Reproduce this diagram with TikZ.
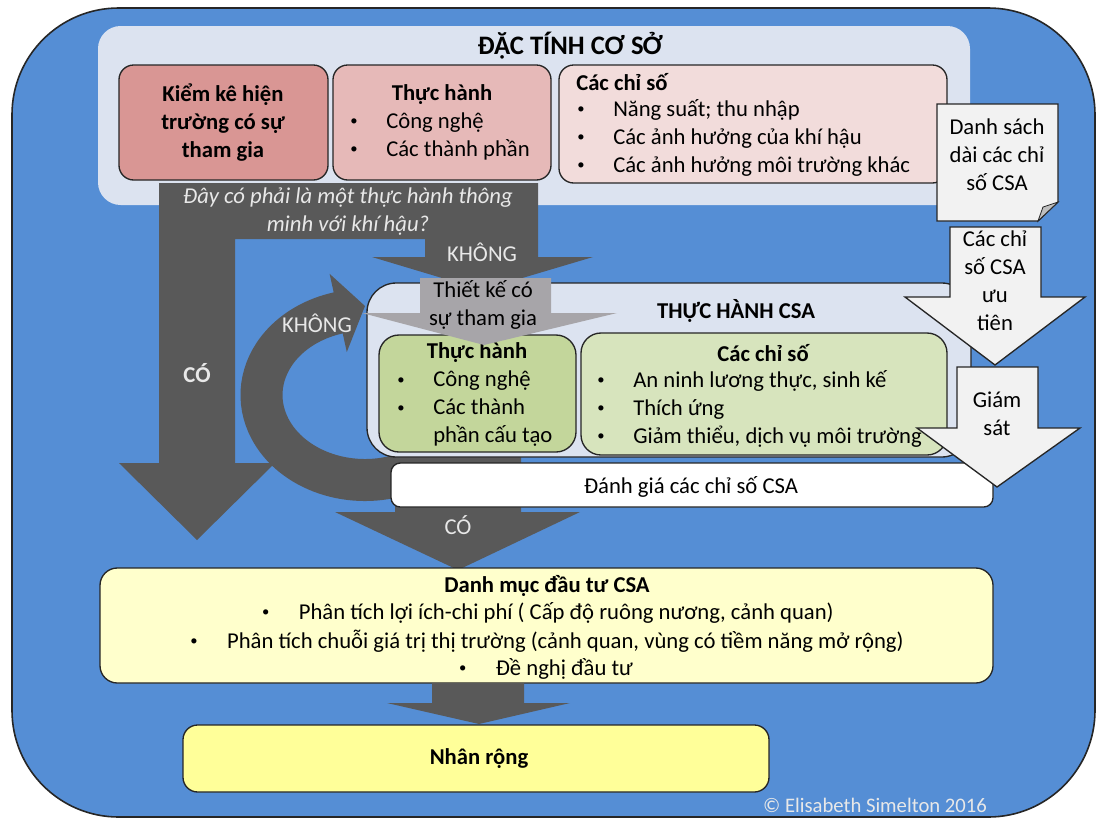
\documentclass[tikz,border=0pt]{standalone}
\usepackage{fontspec}
\setmainfont{Carlito}
\usetikzlibrary{fit}
\definecolor{bgblue}{RGB}{85,142,213}
\definecolor{panel}{RGB}{220,227,240}
\definecolor{redA}{RGB}{217,150,148}
\definecolor{redB}{RGB}{230,185,184}
\definecolor{redC}{RGB}{242,220,219}
\definecolor{greenA}{RGB}{195,214,155}
\definecolor{greenB}{RGB}{215,228,189}
\definecolor{darkarrow}{RGB}{89,89,89}
\definecolor{midarrow}{RGB}{167,165,169}
\definecolor{lightarrow}{RGB}{242,242,242}
\definecolor{foldgray}{RGB}{191,191,191}
\definecolor{yellowA}{RGB}{255,255,204}
\definecolor{yellowB}{RGB}{255,255,153}
\definecolor{softwhite}{RGB}{232,232,232}
\newcommand{\smbullet}{{\fontsize{11}{11}\selectfont\raisebox{0.18em}{\textbullet}}}
\newcommand{\blt}{\makebox[27pt][l]{\smbullet}}
\newcommand{\bltind}{\makebox[27pt][l]{}}
\tikzset{
  box/.style={draw=black!85, line width=1pt, inner sep=0pt},
  txt/.style={font=\fontsize{17}{21}\selectfont, inner sep=0pt},
  btxt/.style={font=\fontsize{17}{21}\selectfont\bfseries, inner sep=0pt},
  wtxt/.style={txt, text=softwhite},
  darkfill/.style={fill=darkarrow},
  lightblock/.style={fill=lightarrow, draw=black!85, line width=1pt, line join=miter},
}
\begin{document}
\begin{tikzpicture}[x=0.75pt,y=-0.75pt]
\useasboundingbox (0,0) rectangle (1096,818);
% outer background
\node[box, fill=bgblue, line width=1.2pt, rounded corners=80pt, fit={(12,8)(1095,817)}] (outer) {};
% top panel
\node[inner sep=0pt, fill=panel, rounded corners=17pt, fit={(98,26)(970,205)}] (base) {};
\node[font=\fontsize{20}{24}\selectfont\bfseries, inner sep=0pt] (baseT) at (570,46) {ĐẶC TÍNH CƠ SỞ};
% three boxes
\node[box, fill=redA, rounded corners=11pt, fit={(119,65)(328,180)}] (kiem) {};
\node[btxt, align=center] (kiemT) at (223,123) {Kiểm kê hiện\\trường có sự\\tham gia};
\node[box, fill=redB, rounded corners=11pt, fit={(333,65)(551,180)}] (th1) {};
\node[btxt] (th1T) at (442,95) {Thực hành};
\node[txt, align=left, anchor=west] (th1L) at (350,136.5) {\blt Công nghệ\\\blt Các thành phần};
\node[box, fill=redC, rounded corners=11pt, fit={(559,65)(947,183)}] (cs1) {};
\node[btxt, anchor=west] (cs1T) at (576,82) {Các chỉ số};
\node[txt, align=left, anchor=west] (cs1L) at (577,138) {\blt Năng suất; thu nhập\\\blt Các ảnh hưởng của khí hậu\\\blt Các ảnh hưởng môi trường khác};
% document shape
\draw[fill=lightarrow, draw=black!85, line width=1pt] (937,104) -- (1058,104) -- (1058,202) -- (1038,221) -- (937,221) -- cycle;
\fill[foldgray, draw=black!85, line width=0.6pt] (1058,202) -- (1038,221) -- (1043,207) -- cycle;
\node[txt, align=center] (docT) at (997,154.5) {Danh sách\\dài các chỉ\\số CSA};
% question L arrow
\fill[darkfill] (159,183) -- (538,183) -- (538,257) -- (593,257) -- (482,290) -- (372,257) -- (425,257) -- (425,239) -- (235,239) -- (235,463) -- (275,463) -- (197,540) -- (119,463) -- (159,463) -- cycle;
\node[txt, align=center, text=softwhite, font=\fontsize{17}{21}\selectfont\itshape] (qT) at (348,212) {Đây có phải là một thực hành thông\\minh với khí hậu?};
\node[wtxt] (khong1) at (482,252) {KHÔNG};
\node[btxt, text=softwhite] (co1) at (197,373) {CÓ};
% curved arrow
\draw[darkarrow, line width=31.5pt] ([shift={(70:103.5 and 85)}]365,395) arc[start angle=70, end angle=257, x radius=103.5, y radius=85];
\fill[darkfill] (346.8,352.0) -- (365,306) -- (329.6,273.8) -- cycle;
\node[wtxt] (khong2) at (317,323) {KHÔNG};
% bottom CO arrow
\fill[darkfill] (395,455) -- (521,455) -- (521,512) -- (580,512) -- (458,570) -- (335,512) -- (395,512) -- cycle;
% THUC HANH CSA panel
\node[box, fill=panel, rounded corners=22pt, fit={(367,283)(971,457)}] (csa) {};
\node[btxt] (csaT) at (736,311) {THỰC HÀNH CSA};
\node[box, fill=greenA, rounded corners=15pt, fit={(379,335)(576,452)}] (th2) {};
\node[btxt] (th2T) at (477,353) {Thực hành};
\node[txt, align=left, anchor=west] (th2L) at (397,409) {\blt Công nghệ\\\blt Các thành\\\bltind phần cấu tạo};
\node[box, fill=greenB, rounded corners=15pt, fit={(581,333)(947,455)}] (cs2) {};
\node[btxt] (cs2T) at (763,353) {Các chỉ số};
\node[txt, align=left, anchor=west] (cs2L) at (597,409) {\blt An ninh lương thực, sinh kế\\\blt Thích ứng\\\blt Giảm thiểu, dịch vụ môi trường};
% Thiet ke arrow
\fill[midarrow] (420,278) -- (551,278) -- (551,313) -- (617,313) -- (484,345) -- (362,313) -- (420,313) -- cycle;
\node[txt, align=center] (tkT) at (483,305) {Thiết kế có\\sự tham gia};
% evaluation box
\node[box, fill=white, rounded corners=7pt, fit={(391,463)(993,507)}] (eval) {};
\node[txt] (evalT) at (691,487) {Đánh giá các chỉ số CSA};
\node[wtxt] (co2) at (458,525) {CÓ};
% right arrows
\draw[lightblock] (950,227) -- (1041,227) -- (1041,297) -- (1085,297) -- (995,365) -- (905,297) -- (950,297) -- cycle;
\node[txt, align=center] (uuT) at (995,281) {Các chỉ\\số CSA\\ưu\\tiên};
\draw[lightblock] (957,367) -- (1038,367) -- (1038,428) -- (1080,428) -- (997,487) -- (917,428) -- (957,428) -- cycle;
\node[txt, align=center] (gsT) at (997,414) {Giám\\sát};
% investment box
\node[box, fill=yellowA, rounded corners=13pt, fit={(100,568)(993,683)}] (dm) {};
\node[btxt] (dmT) at (547,586) {Danh mục đầu tư CSA};
\node[txt] (dm1) at (548,613) {\smbullet\hspace{22pt}Phân tích lợi ích-chi phí ( Cấp độ ruông nương, cảnh quan)};
\node[txt] (dm2) at (547,641) {\smbullet\hspace{22pt}Phân tích chuỗi giá trị thị trường (cảnh quan, vùng có tiềm năng mở rộng)};
\node[txt] (dm3) at (546,669) {\smbullet\hspace{22pt}Đề nghị đầu tư};
% arrow to replication
\fill[darkfill] (432,683) -- (524,683) -- (524,703) -- (570,703) -- (479,724) -- (387,703) -- (432,703) -- cycle;
\node[box, fill=yellowB, rounded corners=11pt, fit={(183,725)(769,792)}] (nr) {};
\node[btxt] (nrT) at (479,759) {Nhân rộng};
\node[font=\fontsize{15.5}{18}\selectfont, text=softwhite, inner sep=0pt] (copy) at (875,805) {© Elisabeth Simelton 2016};
\end{tikzpicture}
\end{document}
